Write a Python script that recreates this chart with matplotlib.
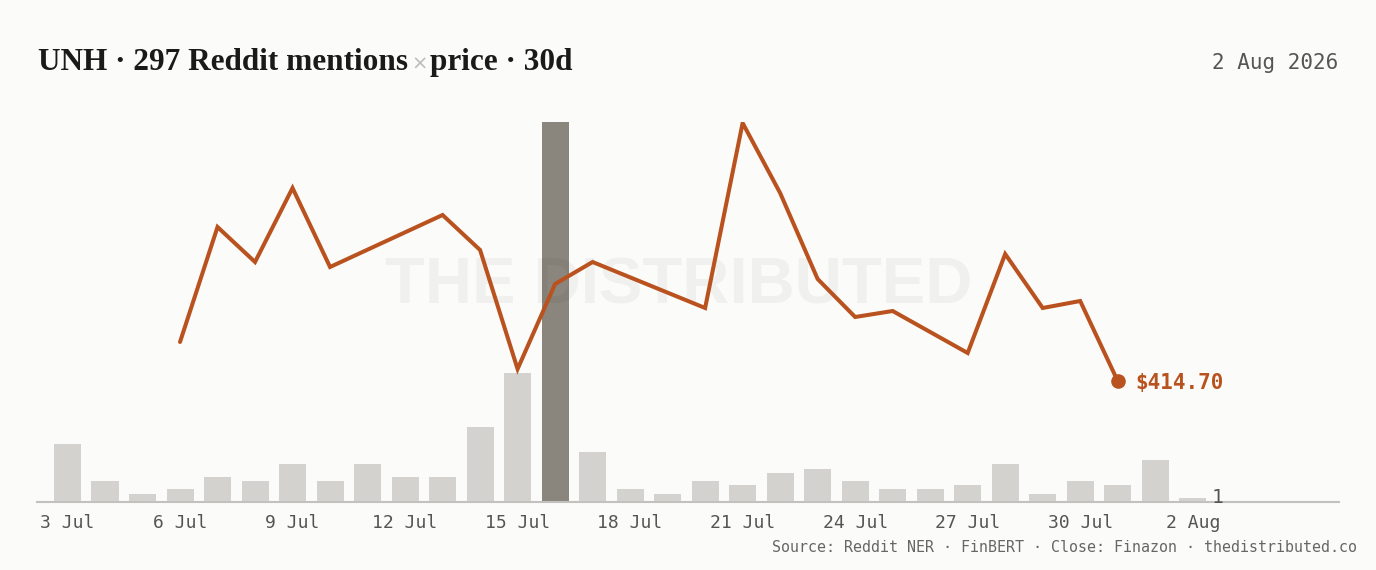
import matplotlib
matplotlib.use("Agg")
import matplotlib.pyplot as plt
import pandas as pd

# daily Reddit mentions, 3 Jul -> 2 Aug 2026
MENTION_DAYS = pd.date_range("2026-07-03", "2026-08-02", freq="D")
MENTIONS = [14, 5, 2, 3, 6, 5, 9, 5, 9, 6, 6, 18, 31, 91, 12, 3,
            2, 5, 4, 7, 8, 5, 3, 3, 4, 9, 2, 5, 4, 10, 1]
PEAK_DAY = "2026-07-16"

# closing prices (gaps where there is no close)
PRICE_DAYS = ["2026-07-06", "2026-07-07", "2026-07-08", "2026-07-09", "2026-07-10",
              "2026-07-13", "2026-07-14", "2026-07-15", "2026-07-16", "2026-07-17",
              "2026-07-20", "2026-07-21", "2026-07-22", "2026-07-23", "2026-07-24",
              "2026-07-25", "2026-07-27", "2026-07-28", "2026-07-29", "2026-07-30",
              "2026-07-31"]
CLOSE = [418.6, 430.1, 426.6, 434.0, 426.1,
         431.3, 427.8, 415.9, 424.4, 426.6,
         422.0, 440.5, 433.5, 424.9, 421.1,
         421.7, 417.5, 427.4, 422.0, 422.7,
         414.7]

TICK_DAYS = ["2026-07-03", "2026-07-06", "2026-07-09", "2026-07-12", "2026-07-15",
             "2026-07-18", "2026-07-21", "2026-07-24", "2026-07-27", "2026-07-30",
             "2026-08-02"]
TICK_LABELS = ["3 Jul", "6 Jul", "9 Jul", "12 Jul", "15 Jul", "18 Jul",
               "21 Jul", "24 Jul", "27 Jul", "30 Jul", "2 Aug"]

BG = "#FBFBF9"
ORANGE = "#B9521E"
BAR = "#D3D2CE"
BAR_PEAK = "#8A857D"
MONO = ["DejaVu Sans Mono"]

fig = plt.figure(figsize=(13.76, 5.70), dpi=100, facecolor=BG)
ax = fig.add_axes([37 / 1376, 68 / 570, 1302 / 1376, 380 / 570])
ax.set_facecolor("none")

mention_days = pd.to_datetime(MENTION_DAYS)
colors = [BAR_PEAK if d == pd.Timestamp(PEAK_DAY) else BAR for d in mention_days]
ax.bar(mention_days, MENTIONS, width=0.72, color=colors, zorder=2)
ax.set_ylim(0, max(MENTIONS))
ax.set_xlim(pd.Timestamp("2026-07-03") - pd.Timedelta(days=0.813),
            pd.Timestamp("2026-07-03") + pd.Timedelta(days=33.9))

# value label for the last day
ax.text(mention_days[-1] + pd.Timedelta(days=0.5), MENTIONS[-1], str(MENTIONS[-1]),
        family=MONO, fontsize=14, color="#555555", ha="left", va="center", zorder=5)

for s in ["top", "right", "left"]:
    ax.spines[s].set_visible(False)
ax.spines["bottom"].set_color("#C2C1BD")
ax.spines["bottom"].set_linewidth(1.5)
ax.spines["bottom"].set_zorder(3)
ax.set_yticks([])
ax.set_xticks(pd.to_datetime(TICK_DAYS))
ax.set_xticklabels(TICK_LABELS, family=MONO, fontsize=13, color="#555555")
ax.tick_params(axis="x", length=0, pad=9)

# watermark
ax.text(0.493, 0.568, "THE DISTRIBUTED", transform=ax.transAxes,
        family=["Liberation Sans"], weight="bold", fontsize=47,
        color="#000000", alpha=0.045, ha="center", va="center", zorder=3)

# price line
px = fig.add_axes(ax.get_position(), sharex=ax)
px.set_facecolor("none")
px.axis("off")
price_days = pd.to_datetime(PRICE_DAYS)
px.plot(price_days, CLOSE, color=ORANGE, lw=2.9, solid_joinstyle="miter",
        solid_capstyle="round", zorder=4)
px.plot(price_days[-1], CLOSE[-1], "o", color=ORANGE, ms=9.5, zorder=5)
px.set_ylim(402.6, 440.6)
px.annotate(f"${CLOSE[-1]:.2f}", (price_days[-1], CLOSE[-1]), xytext=(13, -1.5),
            textcoords="offset points", family=MONO, fontsize=15, weight="bold",
            color=ORANGE, ha="left", va="center")

# title in three pieces so the "x" can be grey
fig.canvas.draw()
r = fig.canvas.get_renderer()
title_y = 1 - 70 / 570
t1 = fig.text(38 / 1376, title_y, "UNH · 297 Reddit mentions", family=["Liberation Serif"],
              weight="bold", fontsize=22.5, color="#1A1A1A", va="baseline")
x1 = fig.transFigure.inverted().transform((t1.get_window_extent(r).x1, 0))[0]
t2 = fig.text(x1 + 3 / 1376, title_y, "×", family=["DejaVu Sans"], fontsize=14,
              color="#BBBBBB", va="baseline")
x2 = fig.transFigure.inverted().transform((t2.get_window_extent(r).x1, 0))[0]
fig.text(x2 + 3 / 1376, title_y, "price · 30d", family=["Liberation Serif"],
         weight="bold", fontsize=22.5, color="#1A1A1A", va="baseline")

fig.text(1338 / 1376, 1 - 63 / 570, "2 Aug 2026", family=MONO, fontsize=15,
         color="#555555", ha="right", va="center")
fig.text(1357 / 1376, 1 - 548 / 570,
         "Source: Reddit NER · FinBERT · Close: Finazon · thedistributed.co",
         family=MONO, fontsize=10.8, color="#666666", ha="right", va="center")

fig.savefig("out.png", dpi=100, facecolor=BG)
